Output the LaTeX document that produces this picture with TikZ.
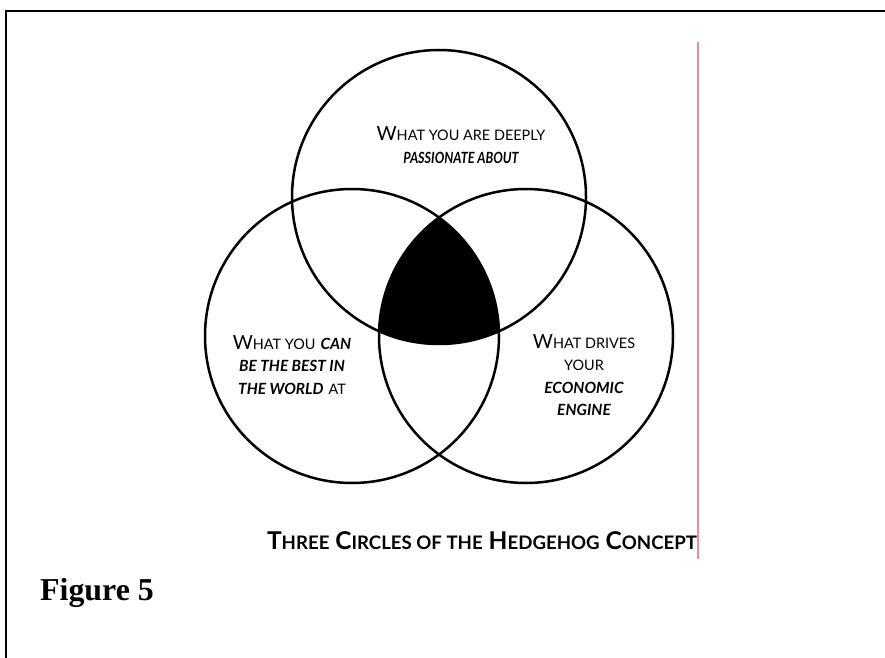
\documentclass[tikz,border=0pt]{standalone}
\usepackage{fontspec}
\usepackage{graphicx}
\setmainfont{Lato}
\newfontfamily\figfont{Liberation Serif}
\usetikzlibrary{positioning}
\definecolor{marginred}{RGB}{240,140,140}
\newcommand{\scap}[1]{{\fontsize{14.5}{22}\selectfont #1}}
\newcommand{\bicap}[1]{{\fontsize{15.5}{22}\selectfont\bfseries\itshape #1}}
\newcommand{\tcap}[1]{{\fontsize{18.7}{26}\selectfont #1}}

\begin{document}
\begin{tikzpicture}[x=1bp,y=-1bp,
  ring/.style={line width=2.5bp},
  blurb/.style={align=center,inner sep=0pt,font=\fontsize{19.5}{22.5}\selectfont},
  heading/.style={inner sep=0pt,font=\fontsize{24.6}{28}\selectfont\bfseries}]
  \useasboundingbox (0,0) rectangle (885,658);
  \fill[white] (0,0) rectangle (885,658);
  % page frame and margin rule
  \draw[line width=2.4bp] (6,658) -- (6,11.3) -- (885,11.3);
  \draw[marginred,line width=1.2bp] (698,42) -- (698,559);
  % the three circles
  \coordinate (passion) at (439,197);
  \coordinate (best) at (352,336);
  \coordinate (engine) at (526,336);
  \begin{scope}
    \clip (passion) circle (147);
    \clip (best) circle (147);
    \fill (engine) circle (147);
  \end{scope}
  \foreach \c in {passion,best,engine} \draw[ring] (\c) circle (147);
  % labels
  \node[blurb] (passiontxt) at (461,145) {W\scap{HAT YOU ARE DEEPLY}\\ \scalebox{0.82}[1]{\bicap{PASSIONATE ABOUT}}};
  \node[blurb] (besttxt) at (292,365) {W\scap{HAT YOU} \bicap{CAN}\\ \bicap{BE THE BEST IN}\\ \bicap{THE WORLD} \scap{AT}};
  \node[blurb] (enginetxt) at (584,375) {W\scap{HAT DRIVES}\\ \scap{YOUR}\\ \bicap{ECONOMIC}\\ \bicap{ENGINE}};
  \node[heading] (title) at (482,541) {T\tcap{HREE} C\tcap{IRCLES OF THE} H\tcap{EDGEHOG} C\tcap{ONCEPT}};
  \node[anchor=base west,inner sep=0pt,font=\figfont\fontsize{32}{36}\selectfont\bfseries] (figno) at (40,600) {Figure 5};
\end{tikzpicture}
\end{document}
